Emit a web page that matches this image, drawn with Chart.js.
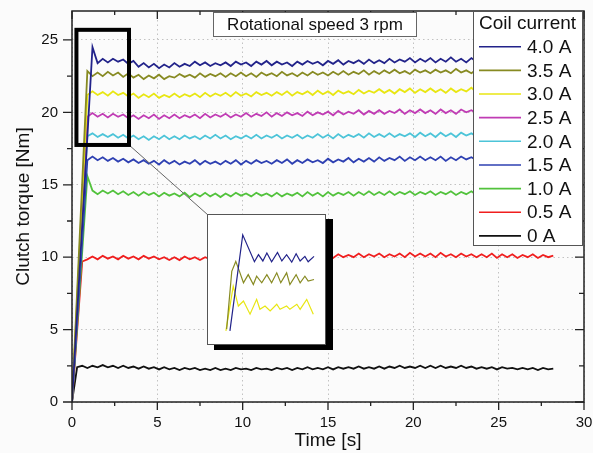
<!DOCTYPE html>
<html>
<head>
<meta charset="utf-8">
<script src="https://cdn.jsdelivr.net/npm/chart.js@4.4.0/dist/chart.umd.min.js"></script>
<style>
  html, body { margin: 0; padding: 0; background: #fbfbfb; }
  canvas { display: block; }
  #wrap { position: relative; width: 593px; height: 453px; }
  #inset {
    position: absolute; left: 207px; top: 214px; width: 117px; height: 129px;
    border: 1.5px solid #555; background: #fff; box-shadow: 7px 5px 0 0 #000;
  }
</style>
</head>
<body>
<div id="wrap">
  <canvas id="chart" width="593" height="453"></canvas>
  <div id="inset"><canvas id="insetChart" width="117" height="129"></canvas></div>
</div>
<script>
// measured torque [Nm] vs time [s], one array per coil current
const time = [
  0, 0.3, 0.6, 0.9, 1.2, 1.5, 1.8, 2.1, 2.4, 2.7,
  3, 3.3, 3.6, 3.9, 4.2, 4.5, 4.8, 5.1, 5.4, 5.7,
  6, 6.3, 6.6, 6.9, 7.2, 7.5, 7.8, 8.1, 8.4, 8.7,
  9, 9.3, 9.6, 9.9, 10.2, 10.5, 10.8, 11.1, 11.4, 11.7,
  12, 12.3, 12.6, 12.9, 13.2, 13.5, 13.8, 14.1, 14.4, 14.7,
  15, 15.3, 15.6, 15.9, 16.2, 16.5, 16.8, 17.1, 17.4, 17.7,
  18, 18.3, 18.6, 18.9, 19.2, 19.5, 19.8, 20.1, 20.4, 20.7,
  21, 21.3, 21.6, 21.9, 22.2, 22.5, 22.8, 23.1, 23.4, 23.7,
  24, 24.3, 24.6, 24.9, 25.2, 25.5, 25.8, 26.1, 26.4, 26.7,
  27, 27.3, 27.6, 27.9, 28.2
];

const torque40 = [
  0, 6.1, 12.2, 18.3, 24.5, 23.4, 23.7, 23.45, 23.7, 23.5,
  23.65, 23.35, 23.55, 23.15, 23.4, 23.1, 23.35, 23.05, 23.3, 23.1,
  23.4, 23.15, 23.35, 23.2, 23.5, 23.25, 23.45, 23.2, 23.4, 23.25,
  23.45, 23.2, 23.5, 23.3, 23.45, 23.2, 23.5, 23.3, 23.55, 23.25,
  23.5, 23.3, 23.45, 23.2, 23.5, 23.3, 23.55, 23.35, 23.5, 23.25,
  23.55, 23.35, 23.6, 23.3, 23.55, 23.4, 23.6, 23.35, 23.65, 23.4,
  23.6, 23.4, 23.7, 23.45, 23.65, 23.5, 23.75, 23.45, 23.7, 23.5,
  23.75, 23.45, 23.7, 23.5, 23.8, 23.5, 23.7, 23.45, 23.75, 23.5,
  23.7, 23.5, 23.8, 23.55, 23.7, 23.45, 23.75, 23.5, 23.7, 23.55,
  23.75, 23.5, 23.7, 23.55, 23.65
];
const torque35 = [
  0, 7.6, 15.2, 22.85, 22.5, 22.75, 22.5, 22.8, 22.55, 22.75,
  22.45, 22.7, 22.4, 22.6, 22.3, 22.55, 22.35, 22.6, 22.3, 22.5,
  22.4, 22.65, 22.45, 22.6, 22.4, 22.7, 22.45, 22.65, 22.5, 22.7,
  22.45, 22.7, 22.5, 22.75, 22.5, 22.7, 22.45, 22.75, 22.55, 22.7,
  22.5, 22.8, 22.55, 22.7, 22.5, 22.75, 22.55, 22.8, 22.6, 22.75,
  22.55, 22.8, 22.6, 22.85, 22.6, 22.8, 22.65, 22.9, 22.6, 22.85,
  22.65, 22.9, 22.7, 22.95, 22.7, 22.85, 22.65, 22.95, 22.75, 22.9,
  22.7, 22.95, 22.75, 22.9, 22.7, 23.0, 22.75, 22.9, 22.7, 22.95,
  22.75, 22.9, 22.7, 22.95, 22.75, 23.0, 22.8, 22.9, 22.7, 22.95,
  22.75, 22.9, 22.8, 22.95, 22.8
];
const torque30 = [
  0, 7.1, 14.2, 21.2, 21.45, 21.2, 21.4, 21.15, 21.45, 21.2,
  21.35, 21.1, 21.3, 21.0, 21.25, 21.05, 21.3, 21.0, 21.2, 21.05,
  21.3, 21.05, 21.25, 21.1, 21.3, 21.05, 21.35, 21.1, 21.3, 21.15,
  21.35, 21.1, 21.4, 21.15, 21.3, 21.1, 21.4, 21.2, 21.35, 21.15,
  21.4, 21.2, 21.45, 21.15, 21.4, 21.25, 21.45, 21.2, 21.5, 21.25,
  21.45, 21.2, 21.5, 21.3, 21.45, 21.25, 21.55, 21.3, 21.5, 21.35,
  21.6, 21.35, 21.55, 21.3, 21.6, 21.4, 21.65, 21.35, 21.6, 21.4,
  21.65, 21.4, 21.6, 21.35, 21.65, 21.4, 21.6, 21.45, 21.7, 21.4,
  21.6, 21.4, 21.65, 21.45, 21.6, 21.35, 21.65, 21.45, 21.7, 21.4,
  21.6, 21.45, 21.65, 21.4, 21.6
];
const torque25 = [
  0, 6.6, 13.2, 19.7, 19.95, 19.7, 19.9, 19.65, 19.9, 19.7,
  19.85, 19.6, 19.8, 19.55, 19.8, 19.6, 19.85, 19.55, 19.8, 19.6,
  19.85, 19.6, 19.8, 19.65, 19.85, 19.6, 19.9, 19.65, 19.85, 19.7,
  19.9, 19.65, 19.85, 19.7, 19.95, 19.7, 19.9, 19.75, 20.0, 19.7,
  19.95, 19.75, 20.0, 19.8, 19.95, 19.75, 20.05, 19.8, 20.0, 19.85,
  20.05, 19.8, 20.1, 19.85, 20.05, 19.9, 20.15, 19.85, 20.1, 19.9,
  20.15, 19.9, 20.1, 19.95, 20.2, 19.9, 20.15, 19.95, 20.2, 19.95,
  20.15, 19.9, 20.2, 19.95, 20.15, 19.9, 20.2, 20.0, 20.15, 19.95,
  20.2, 19.95, 20.15, 19.9, 20.2, 20.0, 20.15, 19.95, 20.2, 19.95,
  20.15, 19.95, 20.2, 20.0, 20.1
];
const torque20 = [
  0, 6.2, 12.3, 18.35, 18.55, 18.3, 18.5, 18.3, 18.5, 18.25,
  18.45, 18.2, 18.4, 18.15, 18.35, 18.1, 18.35, 18.15, 18.4, 18.15,
  18.35, 18.15, 18.4, 18.2, 18.35, 18.15, 18.4, 18.2, 18.45, 18.2,
  18.4, 18.15, 18.35, 18.2, 18.4, 18.2, 18.45, 18.2, 18.4, 18.25,
  18.45, 18.2, 18.4, 18.25, 18.45, 18.2, 18.4, 18.25, 18.5, 18.25,
  18.45, 18.2, 18.5, 18.25, 18.45, 18.3, 18.5, 18.25, 18.55, 18.3,
  18.5, 18.3, 18.55, 18.3, 18.5, 18.35, 18.55, 18.3, 18.6, 18.35,
  18.55, 18.3, 18.6, 18.35, 18.55, 18.3, 18.6, 18.4, 18.55, 18.35,
  18.6, 18.35, 18.55, 18.3, 18.6, 18.4, 18.55, 18.35, 18.6, 18.35,
  18.55, 18.4, 18.6, 18.35, 18.5
];
const torque15 = [
  0, 5.6, 11.2, 16.7, 16.95, 16.7, 16.9, 16.65, 16.85, 16.6,
  16.8, 16.55, 16.75, 16.5, 16.7, 16.45, 16.65, 16.4, 16.7, 16.45,
  16.65, 16.4, 16.6, 16.45, 16.7, 16.4, 16.65, 16.45, 16.6, 16.4,
  16.65, 16.45, 16.7, 16.4, 16.65, 16.45, 16.7, 16.5, 16.65, 16.45,
  16.7, 16.5, 16.75, 16.45, 16.7, 16.5, 16.75, 16.55, 16.7, 16.5,
  16.8, 16.55, 16.75, 16.6, 16.85, 16.55, 16.8, 16.6, 16.85, 16.6,
  16.9, 16.65, 16.85, 16.7, 16.95, 16.65, 16.9, 16.7, 16.95, 16.7,
  16.9, 16.7, 16.95, 16.65, 16.9, 16.7, 16.95, 16.75, 16.9, 16.7,
  16.95, 16.7, 16.9, 16.75, 16.95, 16.7, 16.9, 16.75, 17.0, 16.7,
  16.9, 16.75, 16.95, 16.7, 16.9
];
const torque10 = [
  0, 5.2, 10.4, 15.6, 14.6, 14.35, 14.6, 14.4, 14.6, 14.35,
  14.55, 14.3, 14.5, 14.25, 14.5, 14.3, 14.45, 14.2, 14.45, 14.25,
  14.4, 14.2, 14.45, 14.15, 14.4, 14.2, 14.45, 14.2, 14.4, 14.15,
  14.4, 14.2, 14.45, 14.25, 14.4, 14.2, 14.45, 14.25, 14.4, 14.2,
  14.45, 14.2, 14.4, 14.25, 14.45, 14.2, 14.5, 14.25, 14.45, 14.2,
  14.5, 14.25, 14.45, 14.3, 14.5, 14.25, 14.5, 14.3, 14.55, 14.3,
  14.5, 14.3, 14.55, 14.3, 14.5, 14.35, 14.55, 14.3, 14.5, 14.35,
  14.55, 14.3, 14.5, 14.35, 14.55, 14.3, 14.5, 14.35, 14.55, 14.3,
  14.5, 14.35, 14.55, 14.3, 14.5, 14.35, 14.55, 14.3, 14.5, 14.35,
  14.55, 14.3, 14.5, 14.35, 14.5
];
const torque05 = [
  0, 4.9, 9.7, 9.85, 10.05, 9.85, 10.1, 9.9, 10.05, 9.85,
  10.1, 9.9, 10.05, 9.85, 10.1, 9.9, 10.05, 9.85, 10.0, 9.8,
  10.0, 9.8, 10.05, 9.85, 10.0, 9.8, 10.0, 9.85, 10.05, 9.85,
  10.0, 9.8, 10.05, 9.85, 10.05, 9.8, 10.0, 9.85, 10.05, 9.9,
  10.1, 9.85, 10.05, 9.9, 10.1, 9.9, 10.15, 9.95, 10.1, 9.95,
  10.15, 9.95, 10.2, 10.0, 10.15, 10.0, 10.25, 10.0, 10.2, 10.05,
  10.25, 10.0, 10.2, 10.05, 10.25, 10.0, 10.3, 10.05, 10.25, 10.05,
  10.25, 10.0, 10.3, 10.05, 10.2, 10.0, 10.25, 10.05, 10.2, 10.0,
  10.2, 10.0, 10.25, 9.95, 10.2, 10.0, 10.2, 9.95, 10.15, 10.0,
  10.2, 9.95, 10.15, 10.0, 10.1
];
const torque0 = [
  0, 2.4, 2.5, 2.35, 2.5, 2.4, 2.55, 2.4, 2.5, 2.35,
  2.5, 2.35, 2.45, 2.3, 2.45, 2.3, 2.4, 2.25, 2.4, 2.25,
  2.35, 2.2, 2.35, 2.25, 2.35, 2.2, 2.3, 2.2, 2.35, 2.2,
  2.3, 2.2, 2.35, 2.25, 2.3, 2.2, 2.35, 2.25, 2.3, 2.2,
  2.35, 2.25, 2.35, 2.2, 2.35, 2.25, 2.4, 2.25, 2.35, 2.25,
  2.4, 2.25, 2.4, 2.3, 2.4, 2.3, 2.45, 2.3, 2.4, 2.3,
  2.45, 2.3, 2.45, 2.35, 2.5, 2.35, 2.45, 2.35, 2.5, 2.35,
  2.5, 2.35, 2.5, 2.35, 2.45, 2.35, 2.5, 2.35, 2.45, 2.3,
  2.4, 2.3, 2.4, 2.25, 2.4, 2.3, 2.35, 2.25, 2.35, 2.25,
  2.35, 2.2, 2.35, 2.25, 2.3
];

const currents = ["4.0 A", "3.5 A", "3.0 A", "2.5 A", "2.0 A", "1.5 A", "1.0 A", "0.5 A", "0 A"];
const series = [torque40, torque35, torque30, torque25, torque20, torque15, torque10, torque05, torque0];
const colors = ["#22238a", "#878a22", "#e8e612", "#c03cb4", "#4cc4d8", "#2e40b2", "#52c23c", "#f01e1e", "#111111"];

// inset: close-up of the start-up peak (4.0, 3.5, 3.0 A)
const insetTime40 = [0.80, 1.15, 1.47, 1.58, 1.70, 1.81, 1.94, 2.10, 2.22, 2.35, 2.49, 2.61, 2.72, 2.85, 2.94, 3.10];
const inset40 = [17.89, 24.36, 22.55, 23.02, 22.6, 23.14, 22.55, 23.18, 22.6, 23.02, 22.52, 23.09, 22.6, 22.91, 22.55, 22.91];
const insetTime35 = [0.71, 0.85, 0.96, 1.06, 1.17, 1.30, 1.44, 1.53, 1.67, 1.81, 1.94, 2.08, 2.19, 2.35, 2.44, 2.61, 2.72, 2.85, 2.94, 3.10];
const inset35 = [18.0, 21.9, 22.57, 21.9, 21.13, 21.68, 21.01, 21.57, 21.13, 21.68, 21.13, 21.8, 21.13, 21.8, 21.01, 21.68, 21.13, 21.57, 21.24, 21.35];
const insetTime30 = [0.69, 0.89, 1.03, 1.17, 1.35, 1.53, 1.62, 1.76, 1.90, 2.08, 2.17, 2.35, 2.44, 2.63, 2.72, 2.90, 3.08];
const inset30 = [17.89, 20.9, 19.56, 19.9, 19.01, 20.01, 19.34, 19.56, 19.23, 19.68, 19.34, 19.56, 19.34, 19.68, 19.34, 20.01, 19.01];

const FONT = "'Liberation Sans', Arial, sans-serif";
const TEXT = "#111";

// keep the plot frame exactly where the layout padding puts it
function fixBox(s, size) {
  if (s.isHorizontal()) s.height = size; else s.width = size;
  s.paddingTop = 0; s.paddingBottom = 0; s.paddingLeft = 0; s.paddingRight = 0;
}

const decorations = {
  id: "decorations",
  beforeDraw(chart) {
    const ctx = chart.ctx;
    ctx.save();
    ctx.fillStyle = "#fbfbfb";
    ctx.fillRect(0, 0, chart.width, chart.height);
    ctx.restore();
  },
  afterDraw(chart) {
    const { ctx, chartArea: a, scales: { x, y } } = chart;
    ctx.save();

    // zoom marker and its leader line to the inset
    const zx0 = x.getPixelForValue(0.26), zx1 = x.getPixelForValue(3.34);
    const zy0 = y.getPixelForValue(25.7), zy1 = y.getPixelForValue(17.75);
    ctx.strokeStyle = "#666";
    ctx.lineWidth = 1;
    ctx.beginPath();
    ctx.moveTo(zx1, zy1);
    ctx.lineTo(208, 215);
    ctx.stroke();
    ctx.strokeStyle = "#000";
    ctx.lineWidth = 4;
    ctx.strokeRect(zx0, zy0, zx1 - zx0, zy1 - zy0);

    // frame
    ctx.strokeStyle = "#222";
    ctx.lineWidth = 1.5;
    ctx.strokeRect(a.left, a.top, a.right - a.left, a.bottom - a.top);

    // ticks: outward on bottom/left, inward on top/right
    ctx.lineWidth = 1.3;
    ctx.beginPath();
    for (let v = 0; v <= 30; v += 2.5) {
      const px = x.getPixelForValue(v);
      const len = v % 5 === 0 ? 8 : 4;
      ctx.moveTo(px, a.bottom); ctx.lineTo(px, a.bottom + len);
      ctx.moveTo(px, a.top); ctx.lineTo(px, a.top + len);
    }
    for (let v = 0; v <= 27; v += 2.5) {
      const py = y.getPixelForValue(v);
      const len = v % 5 === 0 ? 9 : 5;
      ctx.moveTo(a.left - len, py); ctx.lineTo(a.left, py);
      ctx.moveTo(a.right, py); ctx.lineTo(a.right - len, py);
    }
    ctx.stroke();

    // title box
    ctx.fillStyle = "#fff";
    ctx.fillRect(213, 12, 204, 25);
    ctx.strokeStyle = "#666";
    ctx.lineWidth = 1;
    ctx.strokeRect(213.5, 12.5, 203, 24);
    ctx.fillStyle = TEXT;
    ctx.font = "17px " + FONT;
    ctx.textAlign = "center";
    ctx.textBaseline = "middle";
    ctx.fillText("Rotational speed 3 rpm", 315, 25);

    // legend
    const lx = 473, ly = a.top, lw = 109, lh = 234;
    ctx.fillStyle = "#fff";
    ctx.fillRect(lx, ly, lw, lh);
    ctx.strokeStyle = "#555";
    ctx.strokeRect(lx + 0.5, ly + 0.5, lw, lh);
    ctx.fillStyle = TEXT;
    ctx.font = "19px " + FONT;
    ctx.textAlign = "center";
    ctx.fillText("Coil current", lx + lw / 2, ly + 13);
    chart.data.datasets.forEach((ds, i) => {
      const ry = ly + 35.7 + i * 23.65;
      ctx.strokeStyle = ds.borderColor;
      ctx.lineWidth = 1.6;
      ctx.beginPath();
      ctx.moveTo(lx + 6, ry);
      ctx.lineTo(lx + 48, ry);
      ctx.stroke();
      ctx.fillStyle = TEXT;
      ctx.textAlign = "left";
      ctx.textBaseline = "middle";
      ctx.fillText(ds.label, lx + 54, ry + 1);
    });
    ctx.restore();
  }
};

new Chart(document.getElementById("chart"), {
  type: "line",
  data: {
    datasets: series.map((vals, i) => ({
      label: currents[i],
      data: vals.map((v, j) => ({ x: time[j], y: v })),
      borderColor: colors[i],
      borderWidth: 1.8,
      pointRadius: 0,
      tension: 0,
      fill: false
    }))
  },
  options: {
    responsive: false,
    animation: false,
    events: [],
    layout: { padding: { top: 11, right: 9, left: 0, bottom: 0 } },
    plugins: { legend: { display: false }, tooltip: { enabled: false } },
    scales: {
      x: {
        type: "linear",
        min: 0,
        max: 30,
        ticks: { stepSize: 5, color: TEXT, font: { family: FONT, size: 15 }, padding: 12, maxRotation: 0 },
        grid: { color: "#c2c2c2", drawTicks: false },
        border: { display: false, dash: [1.5, 3] },
        title: { display: true, text: "Time [s]", color: TEXT, font: { family: FONT, size: 19 }, padding: { top: 0, bottom: 1 } },
        afterFit(s) { fixBox(s, 51); }
      },
      y: {
        min: 0,
        max: 27,
        ticks: { stepSize: 5, includeBounds: false, color: TEXT, font: { family: FONT, size: 15 }, padding: 14 },
        grid: { color: "#c2c2c2", drawTicks: false },
        border: { display: false, dash: [1.5, 3] },
        title: { display: true, text: "Clutch torque [Nm]", color: TEXT, font: { family: FONT, size: 19 }, padding: { top: 12, bottom: 0 } },
        afterFit(s) { fixBox(s, 72); }
      }
    }
  },
  plugins: [decorations]
});

const insetData = [[insetTime40, inset40], [insetTime35, inset35], [insetTime30, inset30]];
new Chart(document.getElementById("insetChart"), {
  type: "line",
  data: {
    datasets: insetData.map(([ts, vs], i) => ({
      data: vs.map((v, j) => ({ x: ts[j], y: v })),
      borderColor: colors[i],
      borderWidth: 1.2,
      pointRadius: 0,
      tension: 0,
      fill: false
    }))
  },
  options: {
    responsive: false,
    animation: false,
    events: [],
    layout: { padding: 0 },
    plugins: { legend: { display: false }, tooltip: { enabled: false } },
    scales: {
      x: { type: "linear", display: false, min: 0.2, max: 3.4 },
      y: { display: false, min: 17, max: 25.7 }
    }
  }
});
</script>
</body>
</html>
